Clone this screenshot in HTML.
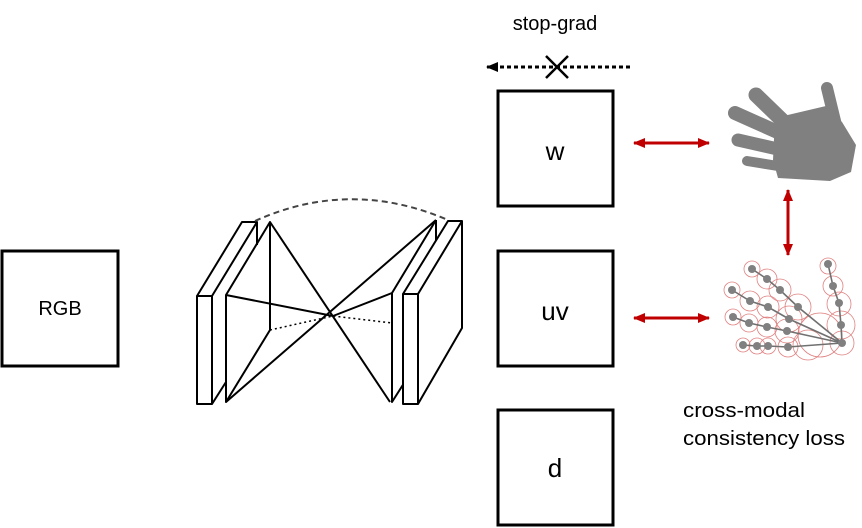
<!DOCTYPE html>
<html><head><style>
body{margin:0;background:#fff;}
svg{display:block;font-family:"Liberation Sans",Calibri,sans-serif;}
</style></head><body>
<svg width="862" height="528" viewBox="0 0 862 528">
<defs>
<marker id="ar" markerWidth="12" markerHeight="10" refX="11" refY="5" orient="auto-start-reverse" markerUnits="userSpaceOnUse"><path d="M0,0 L12,5 L0,10z" fill="#c00000"/></marker>
<marker id="ab" markerWidth="12" markerHeight="10" refX="11" refY="5" orient="auto" markerUnits="userSpaceOnUse"><path d="M0,0 L12,5 L0,10z" fill="#000"/></marker>
</defs>
<g fill="none" stroke="#000" stroke-width="3">
<rect x="2" y="251" width="116" height="115"/>
<rect x="498" y="91" width="115" height="115"/>
<rect x="498" y="251" width="115" height="115"/>
<rect x="498" y="410" width="115" height="115"/>
</g>
<g font-size="20" text-anchor="middle">
<text x="60" y="315">RGB</text>
<text x="555" y="160" font-size="26">w</text>
<text x="555" y="320" font-size="26">uv</text>
<text x="555" y="477" font-size="26">d</text>
<text x="555" y="30">stop-grad</text>
</g>
<g font-size="20">
<text x="683" y="417" textLength="122" lengthAdjust="spacingAndGlyphs">cross-modal</text>
<text x="683" y="445" textLength="162" lengthAdjust="spacingAndGlyphs">consistency loss</text>
</g>
<line x1="630" y1="67" x2="487" y2="67" stroke="#000" stroke-width="3" stroke-dasharray="4,3" marker-end="url(#ab)"/>
<path d="M546,56 L568,78 M568,56 L546,78" stroke="#000" stroke-width="2.5"/>
<g stroke="#c00000" stroke-width="3" marker-start="url(#ar)" marker-end="url(#ar)">
<line x1="634" y1="143" x2="709" y2="143"/>
<line x1="634" y1="318" x2="709" y2="318"/>
<line x1="788" y1="190" x2="788" y2="255"/>
</g>
<g fill="none" stroke="#000" stroke-width="2" stroke-linejoin="round">
<rect x="197" y="296" width="15" height="108" fill="#fff"/>
<path d="M197,296 L242,222 L257,222 L212,296 M257,222 L257,245 M212,404 L226,382"/>
<path d="M226,295 L270,222 L270,330 L226,402 Z"/>
<path d="M270,222 L390,402 M226,402 L436,220 M226,295 L333,316 L392,293"/>
<path d="M392,293 L436,220 M392,293 L392,402 L406,380 M436,220 L436,240"/>
<path d="M270,330 L333,316 L392,323" stroke-dasharray="2,3" stroke-width="1.5"/>
<rect x="403" y="294" width="15" height="110" fill="#fff"/>
<path d="M403,294 L448,221 L462,221 L418,294 M462,221 L462,328 L418,404"/>
<path d="M255,221 Q350,178 448,220" stroke-dasharray="6,4" stroke="#444"/>
</g>
<g stroke="#808080" stroke-linecap="round" fill="#808080">
<line x1="756" y1="95" x2="786" y2="124" stroke-width="15"/>
<line x1="735" y1="113" x2="782" y2="134" stroke-width="14"/>
<line x1="738" y1="140" x2="782" y2="150" stroke-width="13"/>
<line x1="747" y1="161" x2="784" y2="167" stroke-width="10"/>
<line x1="827" y1="88" x2="836" y2="125" stroke-width="12"/>
<polygon stroke="none" points="775,118 826,106 842,122 856,145 851,172 830,181 778,178 773,160"/>
</g>
<g fill="none" stroke="#e08080" stroke-width="0.8">
<circle cx="828" cy="266" r="8"/><circle cx="833" cy="286" r="10"/><circle cx="839" cy="304" r="12"/><circle cx="841" cy="325" r="14"/>
<circle cx="752" cy="269" r="8"/><circle cx="767" cy="279" r="10"/><circle cx="780" cy="290" r="11"/><circle cx="798" cy="307" r="13"/>
<circle cx="732" cy="290" r="8"/><circle cx="750" cy="301" r="10"/><circle cx="768" cy="307" r="11"/><circle cx="789" cy="319" r="13"/>
<circle cx="733" cy="317" r="8"/><circle cx="749" cy="323" r="9"/><circle cx="767" cy="327" r="10"/><circle cx="787" cy="331" r="12"/>
<circle cx="743" cy="345" r="7"/><circle cx="757" cy="346" r="8"/><circle cx="768" cy="346" r="8"/><circle cx="788" cy="347" r="10"/>
<circle cx="820" cy="335" r="22"/><circle cx="808" cy="345" r="15"/><circle cx="842" cy="343" r="12"/>
</g>
<g stroke="#707070" stroke-width="1.6" fill="none">
<polyline points="828,264 833,286 839,303 841,325 842,343"/>
<polyline points="752,269 767,279 780,290 798,307 842,343"/>
<polyline points="732,290 750,301 768,307 789,319 842,343"/>
<polyline points="733,317 749,323 767,327 787,331 842,343"/>
<polyline points="743,345 757,346 768,346 788,347 842,343"/>
</g>
<g fill="#808080">
<circle cx="828" cy="264" r="4"/><circle cx="833" cy="286" r="4"/><circle cx="839" cy="303" r="4"/><circle cx="841" cy="325" r="4"/><circle cx="842" cy="343" r="4"/>
<circle cx="752" cy="269" r="4"/><circle cx="767" cy="279" r="4"/><circle cx="780" cy="290" r="4"/><circle cx="798" cy="307" r="4"/>
<circle cx="732" cy="290" r="4"/><circle cx="750" cy="301" r="4"/><circle cx="768" cy="307" r="4"/><circle cx="789" cy="319" r="4"/>
<circle cx="733" cy="317" r="4"/><circle cx="749" cy="323" r="4"/><circle cx="767" cy="327" r="4"/><circle cx="787" cy="331" r="4"/>
<circle cx="743" cy="345" r="4"/><circle cx="757" cy="346" r="4"/><circle cx="768" cy="346" r="4"/><circle cx="788" cy="347" r="4"/>
</g>
</svg>
</body></html>
